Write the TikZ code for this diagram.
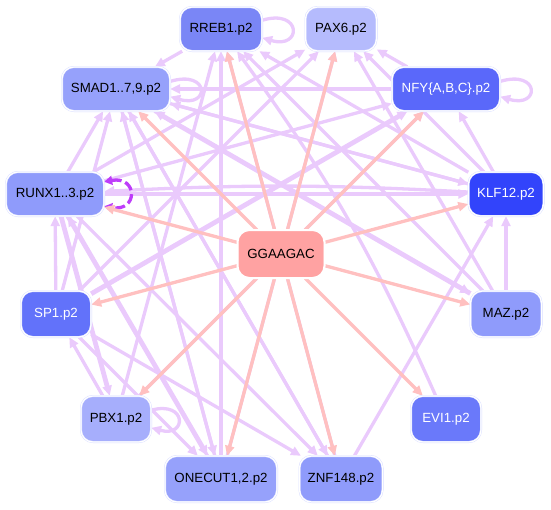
\documentclass[tikz,border=0pt]{standalone}
\usepackage{fontspec}
\setmainfont{Liberation Sans}
\usepackage{xcolor}
\usetikzlibrary{arrows.meta}
\pgfdeclarelayer{background}
\pgfsetlayers{background,main}
\definecolor{figrim}{RGB}{214,219,255}
\definecolor{figlink}{RGB}{234,202,252}
\definecolor{figself}{RGB}{190,60,250}
\definecolor{figpink}{RGB}{255,192,192}
\definecolor{figmotif}{RGB}{255,162,162}
\definecolor{tfa}{RGB}{122,134,246}
\definecolor{tfb}{RGB}{181,187,253}
\definecolor{tfc}{RGB}{150,161,251}
\definecolor{tfd}{RGB}{90,104,250}
\definecolor{tfe}{RGB}{143,155,251}
\definecolor{tff}{RGB}{50,68,251}
\definecolor{tfg}{RGB}{98,114,250}
\definecolor{tfh}{RGB}{166,174,252}
\definecolor{tfi}{RGB}{106,121,250}
\tikzset{
  tf/.style   ={rounded corners=12pt, draw=figrim, double=white, double distance=1.2pt,
                line width=0.4pt, minimum height=44pt, inner sep=2pt,
                font=\fontsize{13.3}{15}\selectfont},
  tfw/.style  ={tf, text=white},
  lk/.style   ={draw=figlink, line width=3.3pt, -{Triangle[length=10pt,width=9pt]}},
  lkb/.style  ={lk, line width=4.8pt},
  pk/.style   ={draw=figpink, line width=3.3pt, -{Triangle[length=10pt,width=9pt]}},
  slf/.style  ={draw=figself, line width=3.3pt, dash pattern=on 10pt off 4pt,
                {Triangle[length=8pt,width=9pt]}-{Triangle[length=8pt,width=9pt]}},
}
\begin{document}
\begin{tikzpicture}[x=1pt,y=-1pt]
  \useasboundingbox (0,0) rectangle (551,509);
  % factors round the motif
  \node[tf,  fill=tfa, minimum width=82pt]  (rreb)  at (221,29)  {RREB1.p2};
  \node[tf,  fill=tfb, minimum width=71pt]  (pax)   at (341,29)  {PAX6.p2};
  \node[tf,  fill=tfc, minimum width=108pt] (smad)  at (116,89)  {SMAD1..7,9.p2};
  \node[tfw, fill=tfd, minimum width=108pt] (nfy)   at (446,89)  {NFY\{A,B,C\}.p2};
  \node[tf,  fill=tfe, minimum width=98pt]  (runx)  at (55,194)  {RUNX1..3.p2};
  \node[tfw, fill=tff, minimum width=75pt]  (klf)   at (506,194) {KLF12.p2};
  \node[tfw, fill=tfg, minimum width=70pt, minimum height=46pt] (sp) at (56,314) {SP1.p2};
  \node[tf,  fill=tfe, minimum width=71pt, minimum height=46pt] (maz) at (506,314) {MAZ.p2};
  \node[tf,  fill=tfh, minimum width=70pt, minimum height=46pt] (pbx) at (116,419) {PBX1.p2};
  \node[tfw, fill=tfi, minimum width=70pt, minimum height=46pt] (evi) at (446,419) {EVI1.p2};
  \node[tf,  fill=tfc, minimum width=112pt, minimum height=46pt] (onec) at (221,479) {ONECUT1,2.p2};
  \node[tf,  fill=tfe, minimum width=83pt, minimum height=46pt]  (znf)  at (341,479) {ZNF148.p2};
  \node[tf,  fill=figmotif, draw=white, minimum width=87pt, minimum height=48pt] (g) at (281,254) {GGAAGAC};
  \begin{pgfonlayer}{background}
  % factor to factor
  \draw[lk] (runx) -- (klf);
  \draw[lk] (klf) to[bend right=3] (runx);
  \draw[lk] (sp) -- (runx);
  \draw[lk] (runx) -- (smad);
  \draw[lk] (pbx) -- (sp);
  \draw[lkb] (runx) -- (pbx);
  \draw[lkb] (runx) -- (onec);
  \draw[lk] (smad) -- (onec);
  \draw[lk] (sp) -- (znf);
  \draw[lk] (sp) -- (onec);
  \draw[lk] (smad) -- (znf);
  \draw[lk] (runx) -- (znf);
  \draw[lk] (maz) -- (klf);
  \draw[lk] (znf) -- (klf);
  \draw[lk] (klf) -- (nfy);
  \draw[lk] (nfy) -- (pax);
  \draw[lk] (nfy) -- (smad);
  \draw[lk] (klf) -- (smad);
  \draw[lk] (klf) -- (rreb);
  \draw[lk] (klf) -- (pax);
  \draw[lkb] (maz) -- (smad);
  \draw[lk] (maz) -- (rreb);
  \draw[lk] (maz) -- (pax);
  \draw[lk] (evi) to[bend right=6] (rreb);
  \draw[lk] (onec) -- (rreb);
  \draw[lk] (onec) -- (smad);
  \draw[lk] (znf) -- (smad);
  \draw[lk] (znf) -- (rreb);
  \draw[lk] (sp) -- (pax);
  \draw[lk] (runx) -- (pax);
  \draw[lkb] (sp) -- (nfy);
  \draw[lk] (runx) -- (nfy);
  \draw[lk] (pbx) -- (rreb);
  \draw[lk] (onec) -- (pax);
  \draw[lk] (smad) -- (maz);
  \draw[lk] (smad) -- (klf);
  \draw[lk] (rreb) -- (smad);
  \draw[lk] (onec) -- (runx);
  \draw[lk] (pbx) -- (nfy);
  \draw[lk] (sp) -- (smad);
  % self loops
  \draw[lk] (rreb.12) .. controls +(40,-12) and +(40,12) .. (rreb.-12);
  \draw[lk] (smad.8) .. controls +(40,-12) and +(40,12) .. (smad.-8);
  \draw[lk] (nfy.8) .. controls +(40,-12) and +(40,12) .. (nfy.-8);
  \draw[lk] (pbx.14) .. controls +(36,-10) and +(36,10) .. (pbx.-14);
  \draw[slf] (runx.14) .. controls +(34,-6) and +(34,6) .. (runx.-14);
  % motif to factors
  \draw[pk] (g) -- (rreb);
  \draw[pk] (g) -- (pax);
  \draw[pk] (g) -- (smad);
  \draw[pk] (g) -- (nfy);
  \draw[pk] (g) -- (runx);
  \draw[pk] (g) -- (klf);
  \draw[pk] (g) -- (sp);
  \draw[pk] (g) -- (maz);
  \draw[pk] (g) -- (pbx);
  \draw[pk] (g) -- (evi);
  \draw[pk] (g) -- (onec);
  \draw[pk] (g) -- (znf);
  \end{pgfonlayer}
\end{tikzpicture}
\end{document}
